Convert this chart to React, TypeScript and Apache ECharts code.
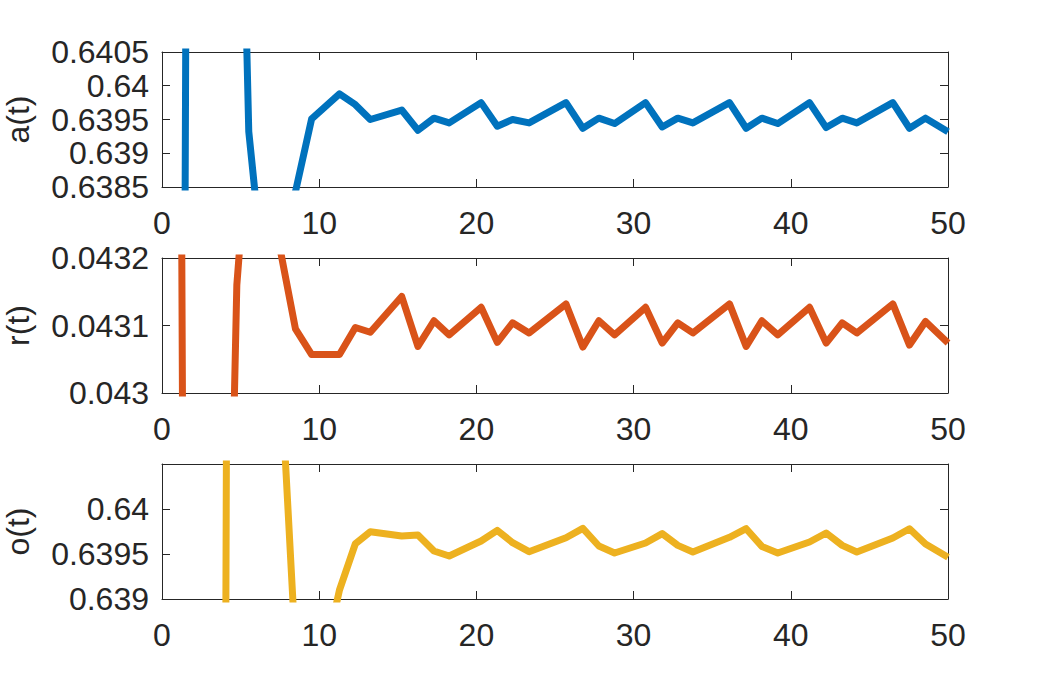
import React, { useEffect, useRef } from "react";
import * as echarts from "echarts";

// Shared time samples (x values)
const tValues = [
  0, 1.0, 2.0, 3.0, 3.9, 4.76, 5.52, 6.5, 7.45, 8.49, 9.52, 11.29, 12.3, 13.25,
  15.25, 16.28, 17.3, 18.27, 20.3, 21.33, 22.3, 23.35, 25.7, 26.77, 27.79,
  28.79, 30.76, 31.82, 32.81, 33.77, 36.1, 37.16, 38.16, 39.17, 41.19, 42.25,
  43.27, 44.2, 46.49, 47.55, 48.57, 50,
];

// a(t)
const aValues = [
  0.6, 0.6101, 0.6701, 0.66, 0.655, 0.6468, 0.63932, 0.63709, 0.6365, 0.63843,
  0.63951, 0.63988, 0.63972, 0.6395, 0.63964, 0.63934, 0.63952, 0.63945,
  0.63975, 0.6394, 0.6395, 0.63945, 0.63975, 0.63937, 0.63952, 0.63944,
  0.63975, 0.63939, 0.63952, 0.63945, 0.63975, 0.63937, 0.63952, 0.63944,
  0.63975, 0.63938, 0.63952, 0.63945, 0.63975, 0.63937, 0.63952, 0.63932,
];

// r(t)
const rValues = [
  0.046, 0.0445, 0.0395, 0.041, 0.042243, 0.04316, 0.04339, 0.0438, 0.043221,
  0.043095, 0.043057, 0.043057, 0.043097, 0.04309, 0.043143, 0.043069,
  0.043107, 0.043086, 0.043127, 0.043075, 0.043104, 0.043089, 0.043132,
  0.043068, 0.043107, 0.043086, 0.043127, 0.043074, 0.043104, 0.043089,
  0.043132, 0.043069, 0.043107, 0.043086, 0.043127, 0.043074, 0.043104,
  0.043089, 0.043132, 0.043071, 0.043106, 0.043074,
];

// o(t)
const oValues = [
  0.6, 0.62, 0.61, 0.6, 0.63075, 0.67375, 0.67, 0.655, 0.64184, 0.63845,
  0.6377, 0.6391, 0.639614, 0.639748, 0.6397, 0.639711, 0.639533, 0.639478,
  0.639644, 0.639762, 0.639626, 0.639526, 0.639681, 0.639784, 0.639589,
  0.639511, 0.639622, 0.639726, 0.639596, 0.639522, 0.639685, 0.639781,
  0.639584, 0.639511, 0.639633, 0.639733, 0.639596, 0.639522, 0.639678,
  0.639781, 0.639611, 0.639465,
];

const xTicks = { min: 0, max: 50, interval: 10 };
const panels = [
  { name: "a(t)", values: aValues, min: 0.6385, max: 0.6405, interval: 0.0005, hide: [] as number[], color: "#0072BD" },
  { name: "r(t)", values: rValues, min: 0.043, max: 0.0432, interval: 0.0001, hide: [] as number[], color: "#D95319" },
  { name: "o(t)", values: oValues, min: 0.639, max: 0.6405, interval: 0.0005, hide: [0.6405], color: "#EDB120" },
];

const AXIS = "#262626";
const FONT = "Liberation Sans, Arial, Helvetica, sans-serif";
const FS = 32;

export default function App() {
  const ref = useRef<HTMLDivElement>(null);
  useEffect(() => {
    if (!ref.current) return;
    const chart = echarts.init(ref.current, null, { renderer: "svg" });
    const tops = [52, 258, 464];
    const grids = tops.map((top) => ({
      left: 162,
      top,
      width: 786,
      height: 135,
      outerBoundsMode: "none",
      containLabel: false,
    }));
    const xAxis: any[] = [];
    const yAxis: any[] = [];
    const series: any[] = [];
    panels.forEach((p, i) => {
      const baseX = {
        type: "value",
        gridIndex: i,
        min: xTicks.min,
        max: xTicks.max,
        interval: xTicks.interval,
        splitLine: { show: false },
        axisLine: { show: true, onZero: false, lineStyle: { color: AXIS, width: 1 } },
        axisTick: { show: true, inside: true, length: 8, lineStyle: { color: AXIS, width: 1 } },
      };
      xAxis.push({
        ...baseX,
        position: "bottom",
        axisLabel: {
          show: true,
          color: AXIS,
          fontSize: FS,
          fontFamily: FONT,
          margin: 20,
          showMinLabel: true,
          showMaxLabel: true,
        },
      });
      xAxis.push({ ...baseX, position: "top", axisLabel: { show: false } });
      const fmt = (v: number) => {
        const r = parseFloat(v.toFixed(6));
        if (p.hide.some((h) => Math.abs(h - r) < 1e-9)) return "";
        return String(r);
      };
      const baseY = {
        type: "value",
        gridIndex: i,
        min: p.min,
        max: p.max,
        interval: p.interval,
        splitLine: { show: false },
        axisLine: { show: true, onZero: false, lineStyle: { color: AXIS, width: 1 } },
        axisTick: { show: true, inside: true, length: 8, lineStyle: { color: AXIS, width: 1 } },
      };
      yAxis.push({
        ...baseY,
        position: "left",
        name: p.name,
        nameLocation: "middle",
        nameGap: 128,
        nameTextStyle: { color: AXIS, fontSize: FS, fontFamily: FONT },
        axisLabel: {
          show: true,
          color: AXIS,
          fontSize: FS,
          fontFamily: FONT,
          margin: 13,
          formatter: fmt,
          showMinLabel: true,
          showMaxLabel: true,
          hideOverlap: false,
        },
      });
      yAxis.push({ ...baseY, position: "right", axisLabel: { show: false } });
      series.push({
        type: "line",
        xAxisIndex: i * 2,
        yAxisIndex: i * 2,
        data: tValues.map((t, k) => [t, p.values[k]]),
        showSymbol: false,
        symbol: "none",
        clip: true,
        lineStyle: { color: p.color, width: 7, join: "round", cap: "butt" },
        itemStyle: { color: p.color },
      });
    });
    chart.setOption({
      animation: false,
      backgroundColor: "#ffffff",
      grid: grids,
      xAxis,
      yAxis,
      series,
    });
    return () => chart.dispose();
  }, []);
  return (
    <div
      ref={ref}
      style={{ position: "fixed", left: 0, top: 0, width: 1047, height: 688, background: "#fff" }}
    />
  );
}
